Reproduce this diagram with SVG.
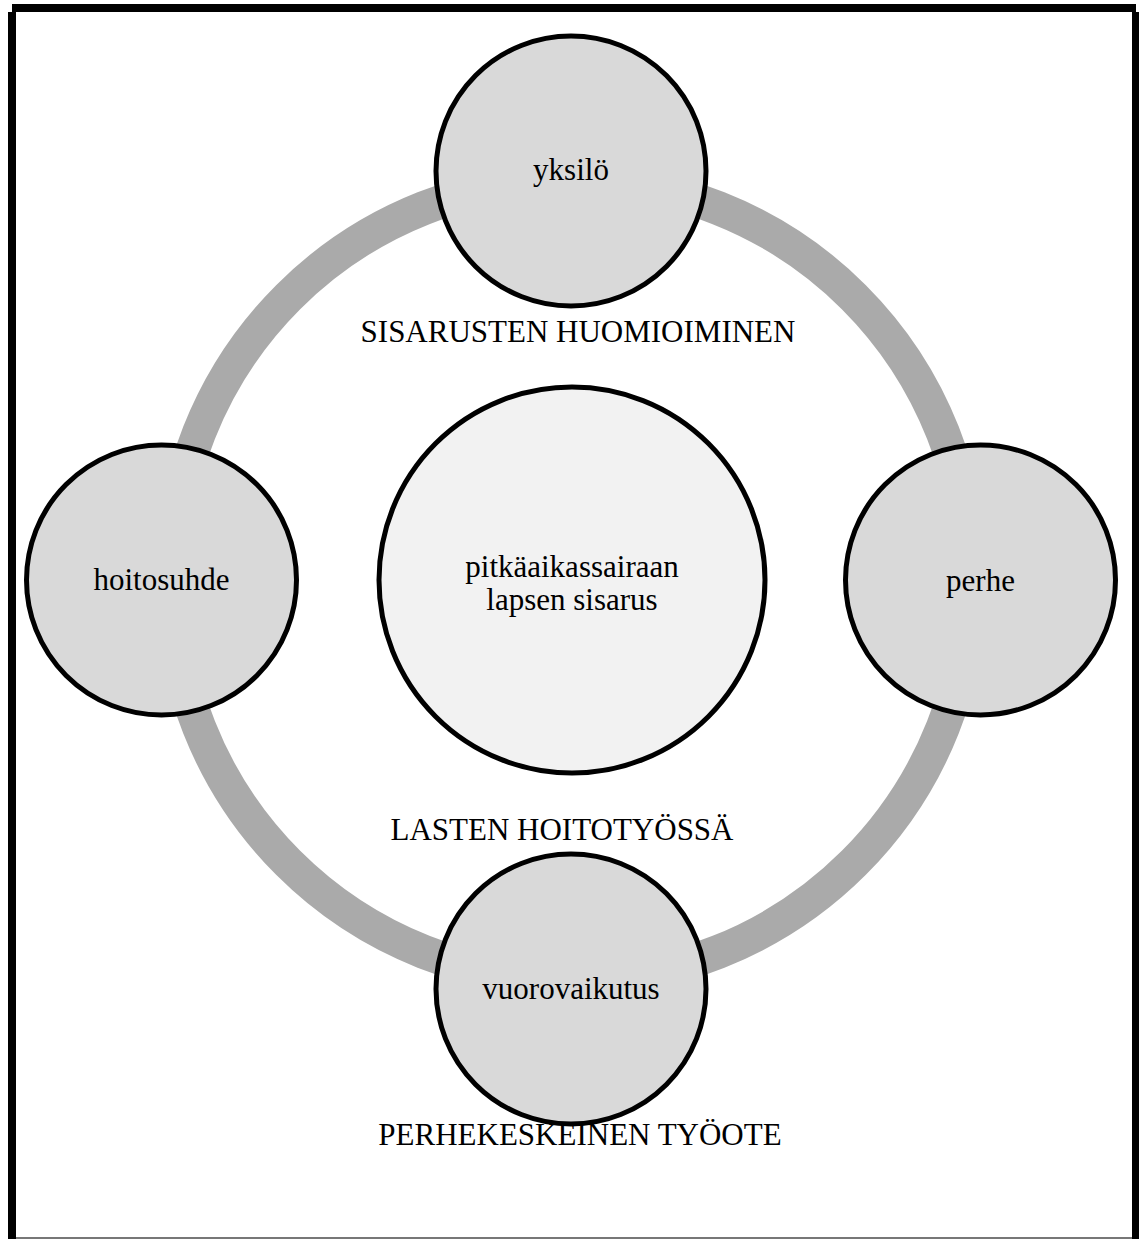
<svg xmlns="http://www.w3.org/2000/svg" width="1139" height="1239" viewBox="0 0 1139 1239">
<style>
.node{fill:#d9d9d9;stroke:#000;stroke-width:5}
.core{fill:#f2f2f2;stroke:#000;stroke-width:5}
.t{font-family:"Liberation Serif","Times New Roman",serif;font-size:31px;fill:#000;text-anchor:middle}
.ring{fill:none;stroke:#aaaaaa;stroke-width:34}
</style>
<rect x="0" y="0" width="1139" height="1239" fill="#fff"/>
<g id="frame">
<rect x="12" y="4" width="1124" height="8" fill="#000"/>
<rect x="8" y="12" width="8" height="1227" fill="#000"/>
<rect x="1132" y="12" width="7" height="1227" fill="#000"/>
<rect x="16" y="1237" width="1116" height="2" fill="#777"/>
</g>
<g id="connectors">
<circle class="ring" cx="571" cy="580" r="400"/>
</g>
<g id="labels">
<text class="t" x="578" y="342">SISARUSTEN HUOMIOIMINEN</text>
<text class="t" x="562" y="840">LASTEN HOITOTYÖSSÄ</text>
<text class="t" x="580" y="1145">PERHEKESKEINEN TYÖOTE</text>
</g>
<g id="node-center">
<circle class="core" cx="572" cy="580" r="193"/>
<text class="t" x="572" y="577">pitkäaikassairaan</text>
<text class="t" x="572" y="610">lapsen sisarus</text>
</g>
<g id="node-yksilo">
<circle class="node" cx="571" cy="171" r="135"/>
<text class="t" x="571" y="180">yksilö</text>
</g>
<g id="node-hoitosuhde">
<circle class="node" cx="161.5" cy="580" r="135"/>
<text class="t" x="161.5" y="590">hoitosuhde</text>
</g>
<g id="node-perhe">
<circle class="node" cx="980.5" cy="580" r="135"/>
<text class="t" x="980.5" y="591">perhe</text>
</g>
<g id="node-vuorovaikutus">
<circle class="node" cx="571" cy="989" r="135"/>
<text class="t" x="571" y="999">vuorovaikutus</text>
</g>
</svg>
